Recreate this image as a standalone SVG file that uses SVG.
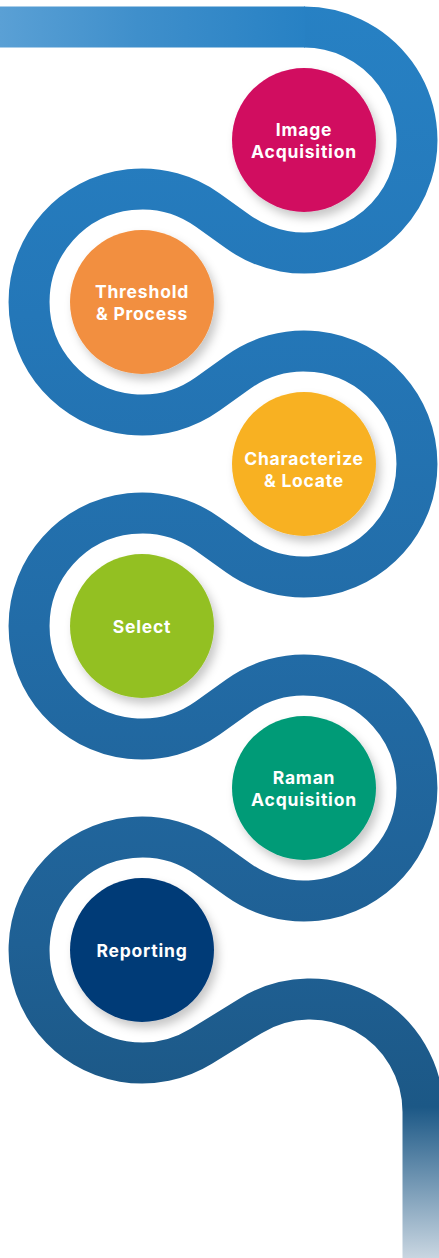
<svg xmlns="http://www.w3.org/2000/svg" width="439" height="1258" viewBox="0 0 439 1258">
<defs>
<linearGradient id="gBand" gradientUnits="userSpaceOnUse" x1="0" y1="0" x2="0" y2="1258">
<stop offset="0" stop-color="#2781c4"/>
<stop offset="0.25" stop-color="#2477b8"/>
<stop offset="0.5" stop-color="#226ca7"/>
<stop offset="0.75" stop-color="#1f6094"/>
<stop offset="0.88" stop-color="#1c5886"/>
<stop offset="1" stop-color="#c9d6e1"/>
</linearGradient>
<linearGradient id="gTop" gradientUnits="userSpaceOnUse" x1="0" y1="0" x2="306" y2="0">
<stop offset="0" stop-color="#5aa0d5"/>
<stop offset="0.45" stop-color="#3f8fcb"/>
<stop offset="1" stop-color="#2781c4"/>
</linearGradient>
<filter id="shadow" x="-30%" y="-30%" width="170%" height="170%">
<feDropShadow dx="4" dy="6" stdDeviation="5" flood-color="#000" flood-opacity="0.22"/>
</filter>
</defs>
<style>
.step circle { filter: url(#shadow); }
.step text { font-family: Inter, "Open Sans", "DejaVu Sans", sans-serif; font-weight: 700; font-size: 17.5px; letter-spacing: 0.8px; fill: #ffffff; text-anchor: middle; }
</style>
<g id="connectors">
<path d="M 304 27 A 113 113 0 1 1 238.2 231.9 L 207.8 210.1 A 113 113 0 1 0 207.8 393.9 L 238.2 372.1 A 113 113 0 1 1 238.2 555.9 L 207.8 534.1 A 113 113 0 1 0 207.8 717.9 L 238.2 696.1 A 113 113 0 1 1 238.2 879.9 L 207.8 858.1 A 113 113 0 1 0 201.2 1046.3 L 250.8 1015.7 A 113 113 0 0 1 423 1112 L 423 1270" fill="none" stroke="url(#gBand)" stroke-width="41"/>
<rect x="0" y="6.5" width="305" height="41" fill="url(#gTop)"/>
</g>
<g id="step1" class="step">
<circle cx="304" cy="140" r="72" fill="#d10a60"/>
<text x="304" y="136">Image</text>
<text x="304" y="158">Acquisition</text>
</g>
<g id="step2" class="step">
<circle cx="142" cy="302" r="72" fill="#f28f3f"/>
<text x="142" y="298">Threshold</text>
<text x="142" y="320">&amp; Process</text>
</g>
<g id="step3" class="step">
<circle cx="304" cy="464" r="72" fill="#f8b122"/>
<text x="304" y="465">Characterize</text>
<text x="304" y="487">&amp; Locate</text>
</g>
<g id="step4" class="step">
<circle cx="142" cy="626" r="72" fill="#93c023"/>
<text x="142" y="633">Select</text>
</g>
<g id="step5" class="step">
<circle cx="304" cy="788" r="72" fill="#019b77"/>
<text x="304" y="784">Raman</text>
<text x="304" y="806">Acquisition</text>
</g>
<g id="step6" class="step">
<circle cx="142" cy="950" r="72" fill="#023a77"/>
<text x="142" y="957">Reporting</text>
</g>
</svg>
